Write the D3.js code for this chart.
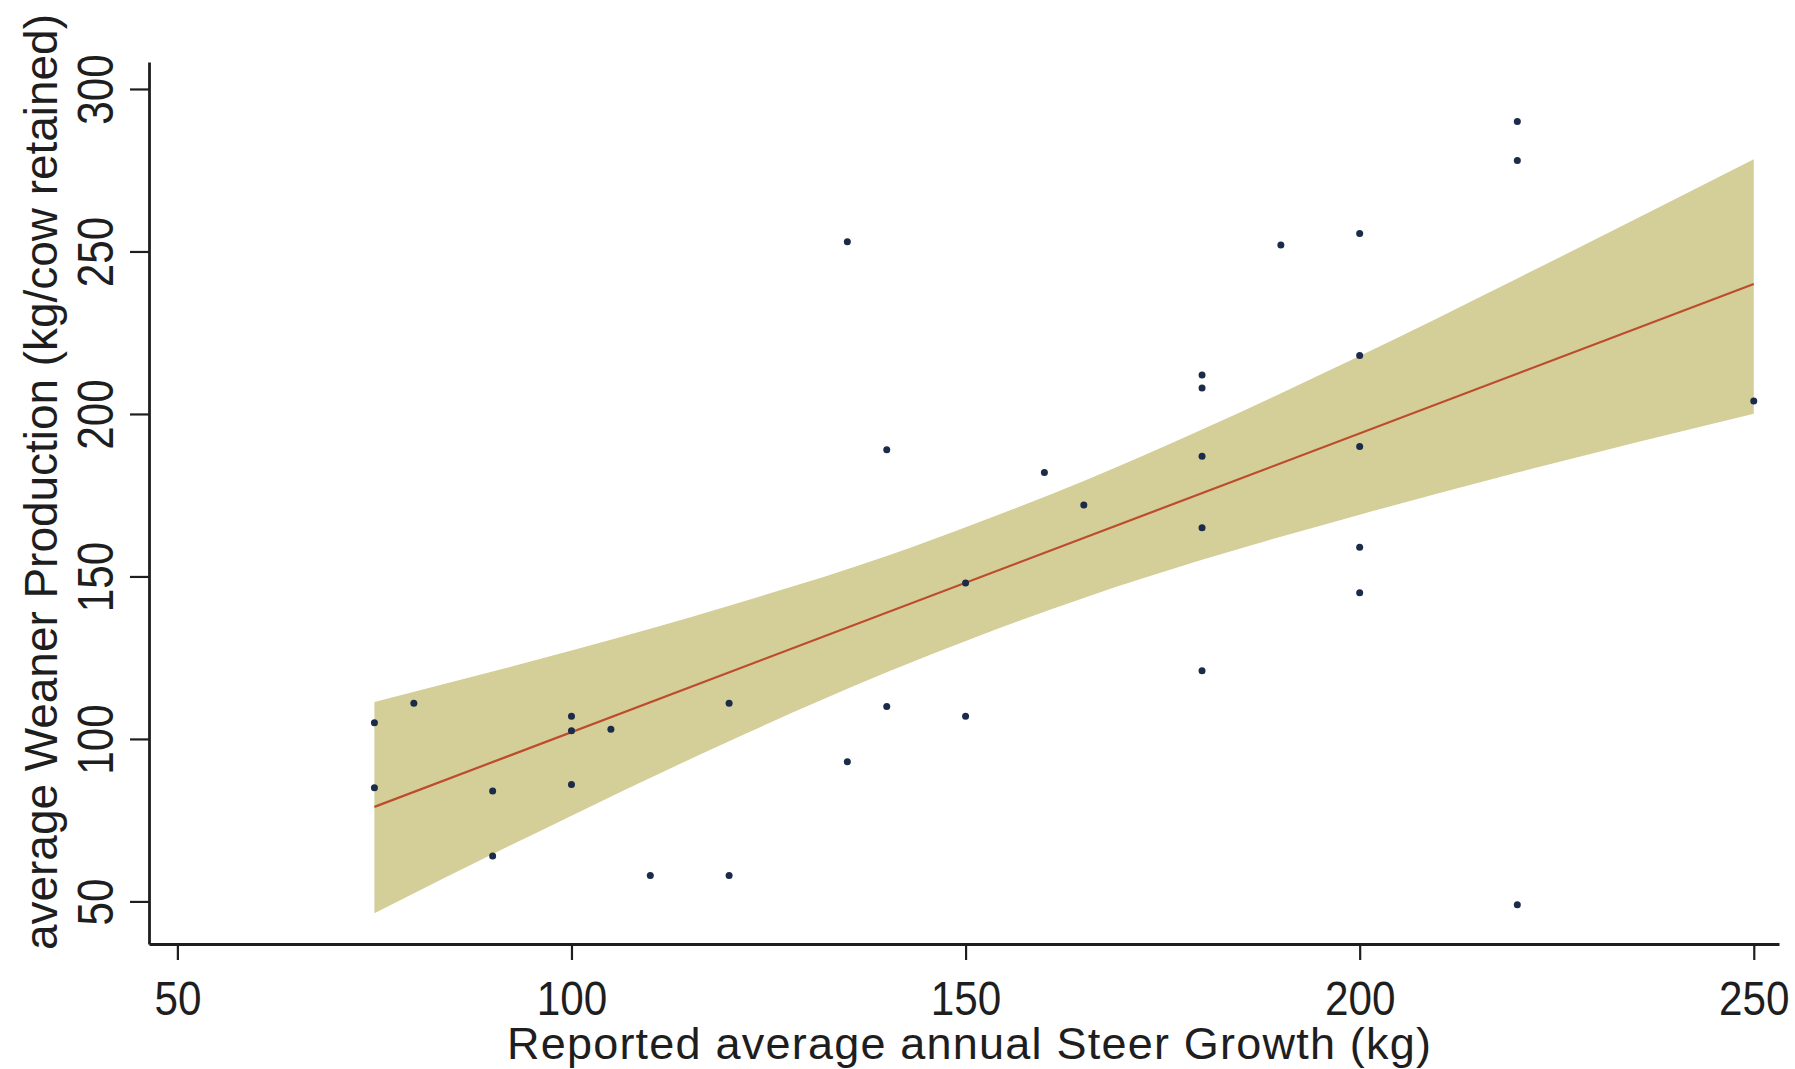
<!DOCTYPE html>
<html>
<head>
<meta charset="utf-8">
<script src="https://cdn.jsdelivr.net/npm/d3@7"></script>
<style>
    body { margin: 0; background: #fff; }
    svg text { font-family: "Liberation Sans Narrow", "Arial Narrow", "Liberation Sans", sans-serif; fill: #1e1e1e; }
</style>
</head>
<body>
<svg id="chart" width="1795" height="1069"></svg>
<script>
// observed farms: steer growth (kg) vs weaner production (kg/cow retained)
let steerGrowth = [75, 75, 80, 90, 90, 100, 100, 100, 105, 110, 120, 120,
    135, 135, 140, 140, 150, 150, 160, 165,
    180, 180, 180, 180, 180, 190, 200, 200, 200, 200, 200, 220, 220, 220, 250];
let weanerProd = [105, 85, 111, 84, 64, 107, 86, 102.5, 103, 58, 58, 111,
    253, 93, 189, 110, 107, 148, 182, 172,
    212, 208, 187, 165, 121, 252, 255.5, 218, 190, 159, 145, 290, 278, 49, 204];

// linear fit and its confidence band
let fitX = [75, 250];
let fitY = [79.1, 240];
let ciX = [75, 100, 120, 140, 152, 165, 180, 200, 220, 250];
let ciUpper = [111.4, 127.2, 141, 156.3, 167, 179.4, 195.2, 217.8, 241.7, 278.4];
let ciLower = [46.4, 76.4, 99.3, 120.5, 132, 143.4, 155.1, 169, 182, 200.1];

let xTicks = [50, 100, 150, 200, 250];
let yTicks = [50, 100, 150, 200, 250, 300];

let svg = d3.select("#chart");

let xScale = d3.scaleLinear().domain([46.4, 253.2]).range([149, 1779]);
let yScale = d3.scaleLinear().domain([36.9, 308.3]).range([944, 62]);

// band
let band = ciX.map(function (d, i) {
    return { x: d, lo: ciLower[i], hi: ciUpper[i] };
});
let area = d3.area()
    .x(function (d) { return xScale(d.x); })
    .y0(function (d) { return yScale(d.lo); })
    .y1(function (d) { return yScale(d.hi); })
    .curve(d3.curveMonotoneX);
svg.append("path")
    .datum(band)
    .attr("d", area)
    .attr("fill", "#d4ce98");

// fitted line
let fit = fitX.map(function (d, i) { return [d, fitY[i]]; });
svg.append("path")
    .datum(fit)
    .attr("d", d3.line()
        .x(function (d) { return xScale(d[0]); })
        .y(function (d) { return yScale(d[1]); }))
    .attr("fill", "none")
    .attr("stroke", "#bd4c2c")
    .attr("stroke-width", 2.2);

// points
svg.append("g")
    .selectAll("circle")
    .data(steerGrowth)
    .enter()
    .append("circle")
    .attr("cx", function (d) { return xScale(d); })
    .attr("cy", function (d, i) { return yScale(weanerProd[i]); })
    .attr("r", 3.5)
    .attr("fill", "#1b2b4a");

// digits in the original are narrow, squeeze them to that width
let digitWidth = 23.5;

// x axis
let xAxis = d3.axisBottom(xScale).tickValues(xTicks).tickSize(16).tickSizeOuter(0);
let xg = svg.append("g")
    .attr("transform", "translate(0,944)")
    .call(xAxis);
xg.select(".domain").attr("stroke", "#1e1e1e").attr("stroke-width", 2.8);
xg.selectAll(".tick line").attr("stroke", "#1e1e1e").attr("stroke-width", 2.2);
xg.selectAll(".tick text")
    .attr("y", 71)
    .attr("dy", 0)
    .attr("font-size", 48)
    .attr("textLength", function (d) { return String(d).length * digitWidth; })
    .attr("lengthAdjust", "spacingAndGlyphs")
    .attr("fill", "#1e1e1e");

// y axis
let yAxis = d3.axisLeft(yScale).tickValues(yTicks).tickSize(19).tickSizeOuter(0);
let yg = svg.append("g")
    .attr("transform", "translate(149,0)")
    .call(yAxis);
yg.select(".domain").attr("stroke", "#1e1e1e").attr("stroke-width", 2.8);
yg.selectAll(".tick line").attr("stroke", "#1e1e1e").attr("stroke-width", 2.2);
yg.selectAll(".tick text")
    .attr("transform", "rotate(-90)")
    .attr("x", 0)
    .attr("y", -36)
    .attr("dy", 0)
    .attr("text-anchor", "middle")
    .attr("font-size", 50)
    .attr("textLength", function (d) { return String(d).length * digitWidth; })
    .attr("lengthAdjust", "spacingAndGlyphs")
    .attr("fill", "#1e1e1e");

// axis titles
svg.append("text")
    .attr("x", 969)
    .attr("y", 1059)
    .attr("text-anchor", "middle")
    .attr("font-size", 45)
    .attr("textLength", 924)
    .attr("lengthAdjust", "spacing")
    .text("Reported average annual Steer Growth (kg)");

svg.append("text")
    .attr("transform", "translate(57,482) rotate(-90)")
    .attr("text-anchor", "middle")
    .attr("font-size", 46)
    .attr("textLength", 936)
    .attr("lengthAdjust", "spacing")
    .text("average Weaner Production (kg/cow retained)");
</script>
</body>
</html>
